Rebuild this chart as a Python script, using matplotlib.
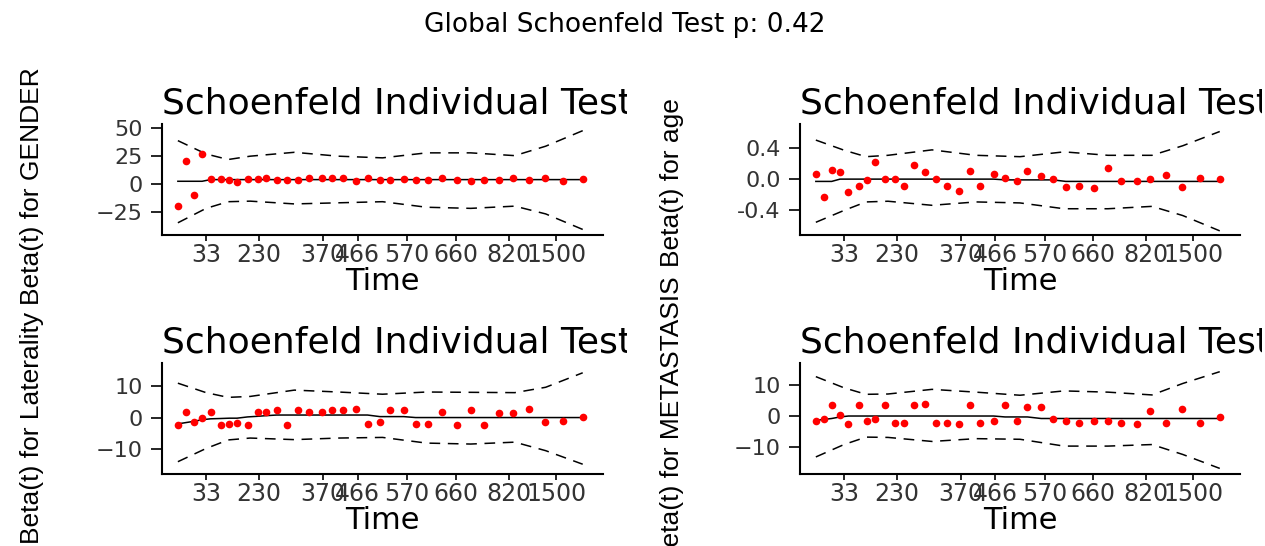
import matplotlib
matplotlib.use("Agg")
import matplotlib.pyplot as plt
from matplotlib.transforms import Bbox, TransformedBbox

# transformed event times (same for all four panels)
time_x = [0.036, 0.054, 0.072, 0.091, 0.110, 0.133, 0.153, 0.170, 0.194, 0.217,
          0.236, 0.260, 0.284, 0.308, 0.333, 0.362, 0.386, 0.410, 0.440, 0.466,
          0.494, 0.517, 0.548, 0.575, 0.604, 0.634, 0.669, 0.700, 0.730, 0.765,
          0.796, 0.832, 0.869, 0.910, 0.954]
tick_pos = [0.100, 0.220, 0.365, 0.444, 0.556, 0.666, 0.787, 0.894]
tick_labels = ["33", "230", "370", "466", "570", "660", "820", "1500"]

# x grid for the confidence bands
band_x = [0.036, 0.10, 0.15, 0.20, 0.30, 0.40, 0.50, 0.60, 0.70, 0.80, 0.87, 0.954]

# GENDER
gender_res = [-20.2, 20.5, -9.9, 27.4, 4.8, 4.8, 3.3, 1.5, 4.8, 4.2,
              5.1, 3.9, 3.9, 3.9, 5.1, 5.1, 5.1, 5.1, 3.0, 5.1,
              3.9, 3.9, 4.8, 3.9, 3.9, 5.1, 3.9, 2.7, 3.9, 3.9,
              5.1, 3.9, 5.1, 3.0, 4.2]
gender_fit = [2.4, 2.4, 2.4, 2.4, 3.9, 3.9, 3.9, 3.9, 3.9, 3.9,
              3.9, 3.9, 3.9, 3.9, 3.9, 3.9, 3.9, 3.9, 3.9, 3.9,
              3.9, 3.9, 3.9, 3.9, 3.9, 3.9, 3.9, 3.9, 3.9, 3.9,
              3.9, 3.9, 3.9, 3.9, 3.9]
gender_up = [39, 27, 22, 25, 28.5, 25, 23.5, 28, 28, 25.5, 34, 48]
gender_lo = [-35, -22, -16, -15.5, -18, -17, -16, -21, -22, -20, -27, -41]

# age
age_res = [0.067, -0.231, 0.116, 0.089, -0.173, -0.084, -0.018, 0.222, 0.0, 0.0,
           -0.084, 0.182, 0.089, 0.0, -0.084, -0.156, 0.111, -0.084, 0.067, 0.013,
           -0.022, 0.111, 0.036, 0.0, -0.098, -0.084, -0.12, 0.147, -0.022, -0.022,
           0.0, 0.049, -0.098, 0.013, 0.0]
age_fit = [-0.03, -0.03, -0.03, 0.0, 0.0, 0.0, 0.0, 0.0, 0.0, 0.0,
           0.0, 0.0, 0.0, 0.0, 0.0, 0.0, 0.0, 0.0, 0.0, -0.01,
           -0.01, -0.01, -0.01, -0.01, -0.03, -0.03, -0.03, -0.03, -0.03, -0.03,
           -0.03, -0.03, -0.03, -0.03, -0.03]
age_up = [0.51, 0.378, 0.293, 0.311, 0.382, 0.311, 0.293, 0.356, 0.311, 0.311, 0.436, 0.622]
age_lo = [-0.564, -0.409, -0.298, -0.289, -0.342, -0.298, -0.311, -0.387, -0.387, -0.356, -0.476, -0.676]

# Laterality
lat_res = [-2.4, 1.8, -1.5, -0.2, 1.8, -2.5, -2.2, -1.7, -2.4, 1.8,
           1.8, 2.3, -2.4, 2.3, 1.8, 1.8, 2.3, 2.3, 2.8, -2.0,
           -1.5, 2.3, 2.3, -2.0, -2.0, 1.8, -2.4, 2.3, -2.4, 1.4,
           1.4, 2.8, -1.5, -1.0, 0.1]
lat_fit = [-2.0, -1.6, -1.2, -0.7, -0.4, -0.3, -0.2, -0.2, 0.2, 0.4,
           0.6, 0.8, 0.8, 0.8, 0.8, 0.8, 0.8, 0.8, 0.8, 0.8,
           0.3, 0.3, 0.3, 0.0, 0.0, 0.0, 0.0, 0.0, 0.0, 0.0,
           0.0, 0.0, 0.0, 0.0, 0.0]
lat_up = [10.9, 7.9, 6.4, 6.7, 8.7, 8.1, 7.4, 8.1, 8.0, 7.9, 9.6, 14.2]
lat_lo = [-14.0, -9.8, -7.1, -6.5, -7.0, -6.5, -6.3, -8.1, -8.4, -7.8, -10.5, -14.8]

# METASTASIS
met_res = [-1.6, -1.1, 3.4, 0.2, -2.5, 3.4, -1.6, -0.9, 3.4, -2.2,
           -2.2, 3.4, 3.8, -2.2, -2.2, -2.5, 3.4, -2.2, -1.6, 3.4,
           -1.6, 3.0, 3.0, -1.1, -1.6, -2.2, -1.6, -1.6, -2.2, -2.5,
           1.6, -2.2, 2.2, -2.2, -0.2]
met_fit = [-1.4, -1.1, -0.8, -0.3, 0.0, 0.0, 0.0, 0.0, 0.0, 0.0,
           0.0, 0.0, 0.0, 0.0, 0.0, 0.0, 0.0, 0.0, 0.0, -0.3,
           -0.3, -0.3, -0.8, -0.8, -0.8, -0.8, -0.8, -0.8, -0.8, -0.8,
           -0.8, -0.8, -0.8, -0.8, -0.8]
met_up = [12.7, 9.1, 7.0, 7.1, 8.6, 7.7, 6.7, 8.1, 7.7, 6.8, 10.5, 14.3]
met_lo = [-13.2, -9.2, -6.8, -6.9, -8.2, -7.3, -7.5, -9.7, -9.7, -9.2, -12.4, -16.9]

W, H = 1265, 546
fig = plt.figure(figsize=(W / 100, H / 100), dpi=100)

panels = [
    # res, fit, up, lo, title, yticks, ylim, rect(px: left, top, right, bottom), clip
    (gender_res, gender_fit, gender_up, gender_lo, "Schoenfeld Individual Test p: 0.1162",
     [-25, 0, 25, 50], (-46, 54), (162, 124, 603, 235), 627),
    (age_res, age_fit, age_up, age_lo, "Schoenfeld Individual Test p: 0.6871",
     [-0.4, 0.0, 0.4], (-0.73, 0.72), (800, 124, 1240, 235), 1262),
    (lat_res, lat_fit, lat_up, lat_lo, "Schoenfeld Individual Test p: 0.8133",
     [-10, 0, 10], (-17.9, 17.3), (162, 363, 603, 474), 627),
    (met_res, met_fit, met_up, met_lo, "Schoenfeld Individual Test p: 0.7512",
     [-10, 0, 10], (-18.7, 17.1), (800, 363, 1240, 474), 1262),
]

for res, fit, up, lo, title, yt, yl, (l, t, r, b), clip_px in panels:
    ax = fig.add_axes([l / W, 1 - b / H, (r - l) / W, (b - t) / H])
    ax.plot(time_x, fit, color="black", lw=1.1)
    ax.plot(band_x, up, color="black", lw=1.1, ls=(0, (7, 5)))
    ax.plot(band_x, lo, color="black", lw=1.1, ls=(0, (7, 5)))
    ax.plot(time_x, res, "o", color="red", ms=5.5, mec="none")
    ax.set_xlim(0, 1)
    ax.set_ylim(*yl)
    ax.set_yticks(yt)
    if isinstance(yt[0], float):
        ax.set_yticklabels(["%.1f" % v for v in yt])
    ax.set_xticks(tick_pos)
    ax.set_xticklabels(tick_labels)
    for s in ["top", "right"]:
        ax.spines[s].set_visible(False)
    for s in ["left", "bottom"]:
        ax.spines[s].set_linewidth(1.5)
    ax.tick_params(axis="x", length=4, width=1.2, pad=2, labelsize=17, labelcolor="#333333")
    ax.tick_params(axis="y", length=8, width=1.2, pad=6, labelsize=16, labelcolor="#333333")
    ax.set_xlabel("Time", fontsize=22, labelpad=0)
    ttl = ax.set_title(title, loc="left", fontsize=26, pad=7)
    ttl.set_clip_box(TransformedBbox(Bbox([[0, 0], [clip_px / W, 1]]), fig.transFigure))
    ttl.set_clip_on(True)

# y axis titles (they run into each other, as in the original)
ylab = dict(rotation=90, ha="center", va="center", fontsize=19, family="Liberation Sans")
fig.text(32 / W, 1 - 186 / H, "Beta(t) for GENDER", **ylab)
fig.text(32 / W, 1 - 428 / H, "Beta(t) for Laterality", **ylab)
fig.text(672 / W, 1 - 183 / H, "Beta(t) for age", **ylab)
fig.text(672 / W, 1 - 420 / H, "Beta(t) for METASTASIS", **ylab)

fig.text(625 / W, 1 - 25 / H, "Global Schoenfeld Test p: 0.42", ha="center", va="center", fontsize=19)

fig.savefig("out.png", dpi=100, facecolor="white")
